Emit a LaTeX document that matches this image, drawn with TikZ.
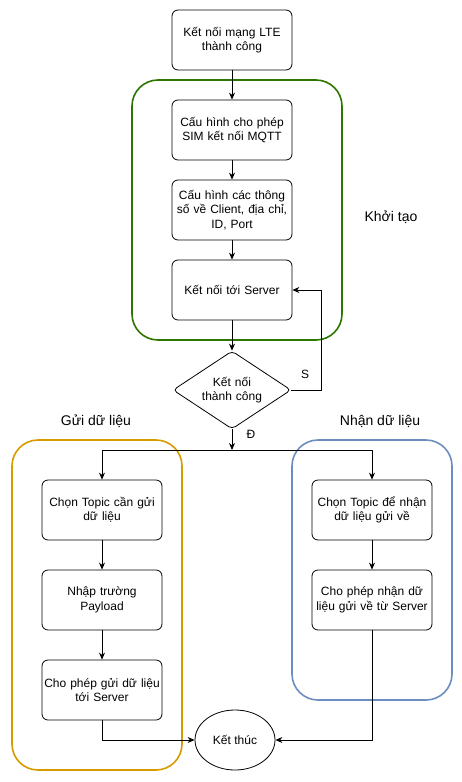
\documentclass[tikz,border=0pt]{standalone}
\usepackage{fontspec}
\setmainfont{Liberation Sans}
\usetikzlibrary{shapes.geometric,arrows.meta}
\definecolor{cgreen}{HTML}{2D7600}
\definecolor{corange}{HTML}{D79B00}
\definecolor{cblue}{HTML}{6C8EBF}
\tikzset{
  procbox/.style={draw=black, line width=0.8pt, rounded corners=6pt, minimum width=120pt, minimum height=60pt, text width=116pt, align=center, inner sep=2pt, font=\fontsize{12}{14.5}\selectfont},
  container/.style={line width=1.6pt, rounded corners=26pt},
  arr/.style={-{Stealth[length=7pt,width=6pt]}, line width=0.8pt},
  grplabel/.style={font=\fontsize{14}{16}\selectfont},
  smalllabel/.style={font=\fontsize{12}{14}\selectfont}
}
\begin{document}
\begin{tikzpicture}[x=1pt,y=-1pt]
\useasboundingbox (0,0) rectangle (462,782);
% containers
\draw[container, draw=cgreen] (132,80) rectangle (342,340);
\draw[container, draw=corange] (12,440) rectangle (182,770);
\draw[container, draw=cblue] (292,440) rectangle (452,700);
% group labels
\node[grplabel] (lkt) at (391,217) {Khởi tạo};
\node[grplabel] (lgui) at (96,421) {Gửi dữ liệu};
\node[grplabel] (lnhan) at (380,421) {Nhận dữ liệu};
% main chain
\node[procbox] (n1) at (232,40) {Kết nối mạng LTE\\thành công};
\node[procbox] (n2) at (232,130) {Cấu hình cho phép\\SIM kết nối MQTT};
\node[procbox] (n3) at (232,210) {Cấu hình các thông\\số về Client, địa chỉ,\\ID, Port};
\node[procbox] (n4) at (232,290) {Kết nối tới Server};
\node[draw, line width=0.8pt, diamond, aspect=1.5, minimum width=118pt, minimum height=78pt, inner sep=0pt, rounded corners=4pt, text width=70pt, align=center, font=\fontsize{12}{14.5}\selectfont] (dia) at (232,390) {Kết nối\\thành công};
% left branch
\node[procbox] (l1) at (102,510) {Chọn Topic cần gửi\\dữ liệu};
\node[procbox] (l2) at (102,600) {Nhập trường\\Payload};
\node[procbox] (l3) at (102,690) {Cho phép gửi dữ liệu\\tới Server};
% right branch
\node[procbox] (r1) at (372,510) {Chọn Topic để nhận\\dữ liệu gửi về};
\node[procbox] (r2) at (372,600) {Cho phép nhận dữ\\liệu gửi về từ Server};
% end
\node[draw, line width=0.8pt, ellipse, minimum width=80pt, minimum height=60pt, inner sep=0pt, font=\fontsize{12}{14}\selectfont] (end) at (235,740) {Kết thúc};
\coordinate (split) at (232,450);
\coordinate (loopc) at (321,390);
% connectors
\draw[arr] (n1) -- (n2);
\draw[arr] (n2) -- (n3);
\draw[arr] (n3) -- (n4);
\draw[arr] (n4) -- (dia);
\draw[arr] (dia.east) -- (loopc) |- (n4.east);
\node[smalllabel] (ls) at (305,374) {S};
\draw[arr] (dia.south) -- (split);
\node[smalllabel] (ld) at (251,434) {Đ};
\draw[arr] (split) -| (l1.north);
\draw[arr] (split) -| (r1.north);
\draw[arr] (l1) -- (l2);
\draw[arr] (l2) -- (l3);
\draw[arr] (r1) -- (r2);
\draw[arr] (l3.south) |- (end.west);
\draw[arr] (r2.south) |- (end.east);
\end{tikzpicture}
\end{document}
